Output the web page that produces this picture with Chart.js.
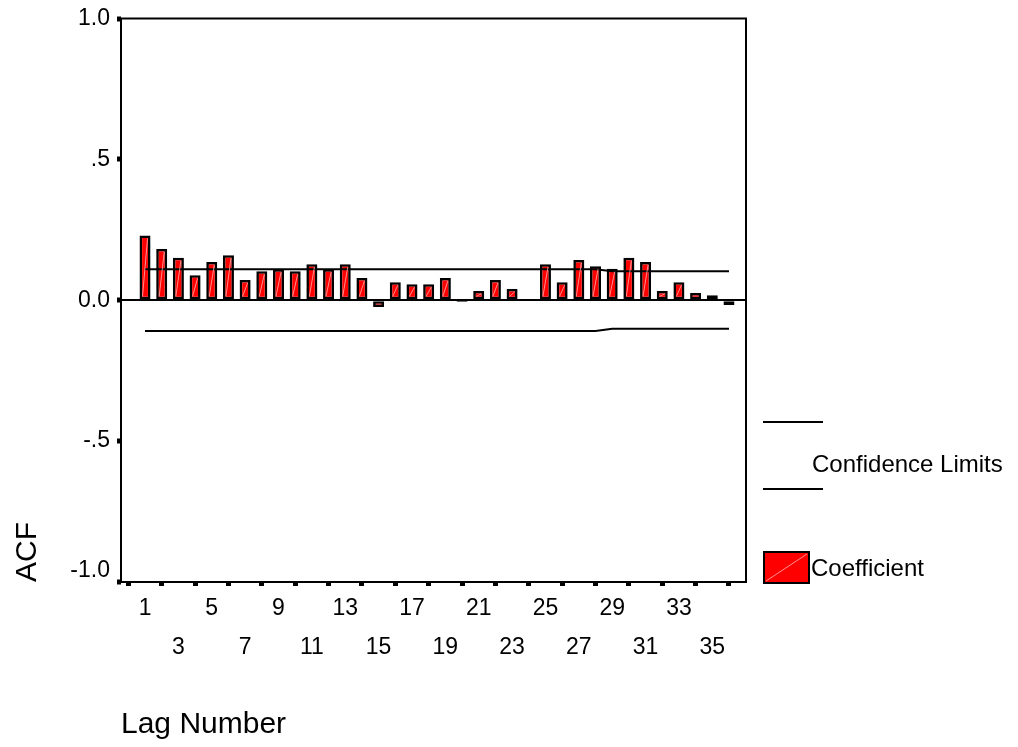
<!DOCTYPE html>
<html>
<head>
<meta charset="utf-8">
<script src="https://cdn.jsdelivr.net/npm/chart.js@4.4.1/dist/chart.umd.min.js"></script>
<style>
  html, body { margin: 0; padding: 0; background: #fff; }
  #wrap { position: relative; width: 1018px; height: 747px; }
</style>
</head>
<body>
<div id="wrap"><canvas id="acfChart" width="1018" height="747"></canvas></div>
<script>
// Lag numbers and autocorrelation coefficients
const lags = [1, 2, 3, 4, 5, 6, 7, 8, 9, 10, 11, 12, 13, 14, 15, 16, 17, 18,
              19, 20, 21, 22, 23, 24, 25, 26, 27, 28, 29, 30, 31, 32, 33, 34, 35, 36];
const acf = [0.230, 0.182, 0.151, 0.089, 0.136, 0.160, 0.072, 0.103, 0.110, 0.103,
             0.128, 0.110, 0.128, 0.079, -0.024, 0.064, 0.057, 0.057, 0.079, -0.006,
             0.033, 0.072, 0.040, 0.004, 0.128, 0.064, 0.143, 0.121, 0.112, 0.151,
             0.136, 0.033, 0.064, 0.026, 0.018, -0.017];
// Upper and lower confidence limits per lag
const upperLimit = [0.110, 0.110, 0.110, 0.110, 0.110, 0.110, 0.110, 0.110, 0.110, 0.110,
                    0.110, 0.110, 0.110, 0.110, 0.110, 0.110, 0.110, 0.110, 0.110, 0.110,
                    0.110, 0.110, 0.110, 0.110, 0.110, 0.110, 0.110, 0.110, 0.103, 0.103,
                    0.103, 0.103, 0.103, 0.103, 0.103, 0.103];
const lowerLimit = [-0.109, -0.109, -0.109, -0.109, -0.109, -0.109, -0.109, -0.109, -0.109, -0.109,
                    -0.109, -0.109, -0.109, -0.109, -0.109, -0.109, -0.109, -0.109, -0.109, -0.109,
                    -0.109, -0.109, -0.109, -0.109, -0.109, -0.109, -0.109, -0.109, -0.101, -0.101,
                    -0.101, -0.101, -0.101, -0.101, -0.101, -0.101];
// Axis ticks and their labels
const xTicks = [1, 3, 5, 7, 9, 11, 13, 15, 17, 19, 21, 23, 25, 27, 29, 31, 33, 35];
const yTicks = [-1, -0.5, 0, 0.5, 1];
const yTickLabels = ['-1.0', '-.5', '0.0', '.5', '1.0'];

const FONT = '"Liberation Sans", Arial, Helvetica, sans-serif';
const RED = '#ff0000';
const HATCH = 'rgba(255, 190, 190, 0.75)';

// Faint diagonal stroke inside each bar
const barHatch = {
  id: 'barHatch',
  afterDatasetsDraw(chart) {
    const ctx = chart.ctx;
    const meta = chart.getDatasetMeta(2);
    ctx.save();
    ctx.strokeStyle = HATCH;
    ctx.lineWidth = 1;
    meta.data.forEach(bar => {
      const p = bar.getProps(['x', 'y', 'base', 'width'], true);
      const top = Math.min(p.y, p.base), bot = Math.max(p.y, p.base);
      if (bot - top < 7) return;
      ctx.beginPath();
      ctx.moveTo(p.x - p.width / 2 + 3, bot - 3);
      ctx.lineTo(p.x + p.width / 2 - 3, top + 3);
      ctx.stroke();
    });
    ctx.restore();
  }
};

// Box around the plotting area
const frame = {
  id: 'frame',
  afterDraw(chart) {
    const { ctx, chartArea: a } = chart;
    ctx.save();
    ctx.strokeStyle = '#000';
    ctx.lineWidth = 2;
    ctx.strokeRect(a.left, a.top, a.right - a.left, a.bottom - a.top);
    ctx.restore();
  }
};

// Legend at the right side
const sideLegend = {
  id: 'sideLegend',
  afterDraw(chart) {
    const ctx = chart.ctx;
    const a = chart.chartArea;
    const x0 = a.right + 17;
    ctx.save();
    ctx.strokeStyle = '#000';
    ctx.lineWidth = 2;
    ctx.beginPath();
    ctx.moveTo(x0, 422); ctx.lineTo(x0 + 60, 422);
    ctx.moveTo(x0, 489); ctx.lineTo(x0 + 60, 489);
    ctx.stroke();
    ctx.fillStyle = '#000';
    ctx.font = '24px ' + FONT;
    ctx.textBaseline = 'middle';
    ctx.textAlign = 'left';
    ctx.fillText('Confidence Limits', x0 + 49, 465);
    // coefficient swatch
    ctx.fillStyle = '#000';
    ctx.fillRect(x0, 551, 47, 33);
    ctx.fillStyle = RED;
    ctx.fillRect(x0 + 2, 553, 43, 29);
    ctx.strokeStyle = HATCH;
    ctx.lineWidth = 1;
    ctx.beginPath();
    ctx.moveTo(x0 + 3, 581); ctx.lineTo(x0 + 44, 554);
    ctx.stroke();
    ctx.fillStyle = '#000';
    ctx.fillText('Coefficient', x0 + 48, 569);
    ctx.restore();
  }
};

const toPoints = arr => lags.map((l, i) => ({ x: l, y: arr[i] }));

new Chart(document.getElementById('acfChart'), {
  type: 'bar',
  data: {
    datasets: [
      {
        type: 'line', label: 'Upper', data: toPoints(upperLimit),
        borderColor: '#000', borderWidth: 2, pointRadius: 0, tension: 0, order: 0
      },
      {
        type: 'line', label: 'Lower', data: toPoints(lowerLimit),
        borderColor: '#000', borderWidth: 2, pointRadius: 0, tension: 0, order: 0
      },
      {
        type: 'bar', label: 'Coefficient', data: toPoints(acf),
        backgroundColor: RED, borderColor: '#000', borderWidth: 2.6, borderSkipped: false,
        categoryPercentage: 1, barPercentage: 0.66, order: 1
      }
    ]
  },
  options: {
    responsive: false,
    animation: false,
    events: [],
    layout: { padding: { top: 17, right: 272, left: 0, bottom: 0 } },
    plugins: { legend: { display: false }, tooltip: { enabled: false } },
    scales: {
      x: {
        type: 'linear',
        min: -0.44,
        max: 37.02,
        offset: false,
        afterBuildTicks: s => { s.ticks = xTicks.map(v => ({ value: v })); },
        afterFit: s => { s.height = 165; },
        border: { display: false },
        grid: { drawOnChartArea: false, tickLength: 4, tickWidth: 5, tickColor: '#000' },
        ticks: {
          autoSkip: false, maxRotation: 0, minRotation: 0, padding: 3,
          color: '#000', font: { family: FONT, size: 23, lineHeight: 1.7 },
          callback: v => ((v - 1) % 4 === 0 ? [String(v), ''] : ['', String(v)])
        },
        title: {
          display: true, text: 'Lag Number', align: 'start', color: '#000',
          font: { family: FONT, size: 30 }, padding: { top: 0, bottom: 4 }
        }
      },
      y: {
        min: -1,
        max: 1,
        afterBuildTicks: s => { s.ticks = yTicks.map(v => ({ value: v })); },
        afterFit: s => { s.width = 121; },
        border: { display: false },
        grid: {
          color: c => (c.tick && c.tick.value === 0 ? '#000' : 'rgba(0,0,0,0)'),
          lineWidth: 2, tickLength: 4, tickWidth: 5, tickColor: '#000'
        },
        ticks: {
          padding: 7, color: '#000', font: { family: FONT, size: 23, lineHeight: 1 },
          callback: v => {
            const t = yTickLabels[yTicks.indexOf(v)];
            return v === -1 ? [t, ''] : t;
          }
        },
        title: {
          display: true, text: 'ACF', align: 'start', color: '#000',
          font: { family: FONT, size: 30 }, padding: { top: 10, bottom: 0 }
        }
      }
    }
  },
  plugins: [barHatch, frame, sideLegend]
});
</script>
</body>
</html>
